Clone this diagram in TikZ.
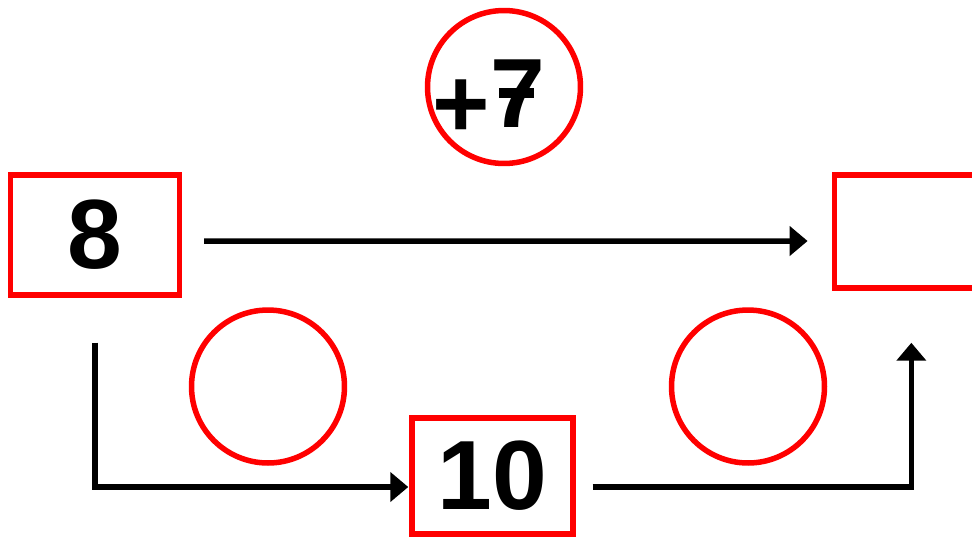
\documentclass[tikz,border=0pt]{standalone}
\usepackage{fontspec}
\setmainfont{Liberation Sans}
\usetikzlibrary{positioning, arrows.meta}

\begin{document}
\begin{tikzpicture}[
        x=0.02cm, y=-0.02cm,
        >={Triangle[length=0.36cm, width=0.58cm]},
        numbox/.style={draw=red, line width=0.11cm, rectangle, inner sep=0pt, minimum width=3.38cm, minimum height=2.4cm, font=\fontsize{56}{60}\selectfont\bfseries},
        ring/.style={draw=red, line width=0.11cm, circle, inner sep=0pt, minimum size=3.06cm},
        arrow/.style={->, line width=0.11cm}
    ]
    \useasboundingbox (0,0) rectangle (972,542);
    % Nodes
    \node[numbox] (start) at (95,235) {8};
    \node[numbox, right=12.99cm of start, yshift=0.07cm, minimum height=2.26cm] (result) {};
    \node[numbox, minimum width=3.22cm, minimum height=2.32cm] (mid) at (492.5,476) {10};
    \node[ring] (add) at (504,87) {};
    \node[anchor=base west, inner sep=0pt, font=\fontsize{56}{60}\selectfont\bfseries] (addtxt) at ([shift={(-71.5,40)}]add.center) {\raisebox{-0.2cm}{+}\rlap{\kern0.18cm\rule[0.58cm]{0.7cm}{0.2cm}}7};
    \node[ring] (stepa) at (268,386.5) {};
    \node[ring] (stepb) at (748,386.5) {};

    % Arrows
    \draw[arrow] ([shift={(22,6)}]start.east) -- ([shift={(-24,9.5)}]result.west);
    \draw[arrow] ([shift={(0,45)}]start.south) |- ([shift={(-1,11)}]mid.west);
    \draw[arrow] ([shift={(17,11)}]mid.east) -| ([shift={(-7.5,52)}]result.south);
\end{tikzpicture}
\end{document}
